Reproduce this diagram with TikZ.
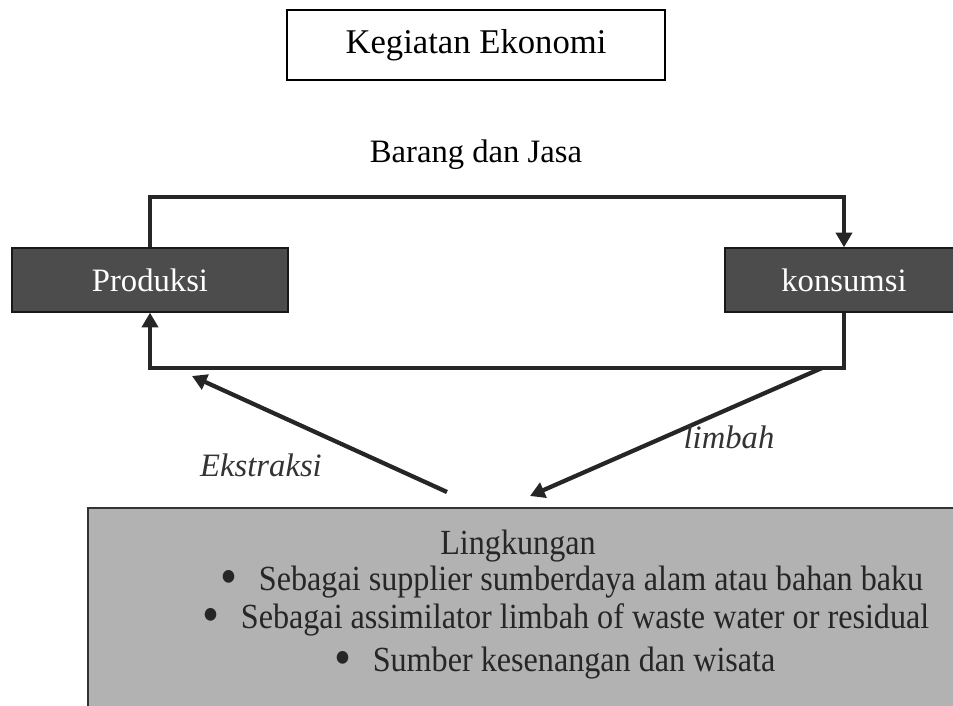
\documentclass[tikz,border=0pt]{standalone}
\usepackage{fontspec}
\setmainfont{Liberation Serif}
\newfontfamily\sempit[FakeStretch=0.91]{Liberation Serif}
\usepackage{tikz}
\usetikzlibrary{arrows.meta, positioning}

\newcommand{\butir}{\smash{\raisebox{-0.12em}{\fontsize{40}{40}\selectfont\textbullet}}\hspace{0.6em}}

\begin{document}
\begin{tikzpicture}[
    x=0.75pt, y=-0.75pt,
    titlebox/.style={
        rectangle,
        draw,
        line width=1.2pt,
        minimum width=283.5pt,
        minimum height=52.5pt,
        font=\fontsize{26}{30}\selectfont
    },
    sectorbox/.style={
        rectangle,
        draw=black!90,
        line width=1pt,
        fill=black!70,
        text=white,
        minimum height=48pt,
        font=\fontsize{24.5}{28}\selectfont
    },
    envbox/.style={
        rectangle,
        draw=black!80,
        line width=1.5pt,
        fill=black!30,
        minimum width=661.5pt,
        minimum height=166.5pt
    },
    plaintext/.style={font=\fontsize{24.5}{28}\selectfont},
    envtext/.style={font=\sempit\fontsize{26.5}{30}\selectfont, text=black!85, inner sep=1pt},
    flowtext/.style={font=\fontsize{24.5}{28}\selectfont\itshape, text=black!80},
    flow/.style={-{Triangle[length=11pt,width=12pt]}, line width=3.2pt, draw=black!85}
]

\useasboundingbox (0,0) rectangle (953,706);
\clip (0,0) rectangle (953,706);

\node[titlebox] (kegiatan) at (476,45) {Kegiatan Ekonomi};
\node[plaintext] (barang) at (476,155) {Barang dan Jasa};

\node[sectorbox, minimum width=207pt] (produksi) at (150,280) {Produksi};
\node[sectorbox, minimum width=178.5pt] (konsumsi) at (844,280) {konsumsi};

\node[envbox] (lingkungan) at (529,619) {};
\node[envtext] (judul) at (518,546) {Lingkungan};
\node[envtext] (fungsi1) at (572,582) {\butir Sebagai supplier sumberdaya alam atau bahan baku};
\node[envtext] (fungsi2) at (566,620) {\butir Sebagai assimilator limbah of waste water or residual};
\node[envtext] (fungsi3) at (555,663) {\butir Sumber kesenangan dan wisata};

\coordinate (atas) at (476,197);
\coordinate (bawah) at (476,368);
\draw[flow] (produksi.north) |- (atas) -| (konsumsi.north);
\draw[flow] (konsumsi.south) |- (bawah) -| (produksi.south);

\coordinate (ambil) at (447,492);
\coordinate (masuk) at (192,376);
\coordinate (buang) at (822,368);
\coordinate (terima) at (530,496);
\draw[flow] (ambil) -- (masuk);
\draw[flow] (buang) -- (terima);

\node[flowtext] (ekstraksi) at (261,465) {Ekstraksi};
\node[flowtext] (limbah) at (729,437) {limbah};

\end{tikzpicture}
\end{document}
